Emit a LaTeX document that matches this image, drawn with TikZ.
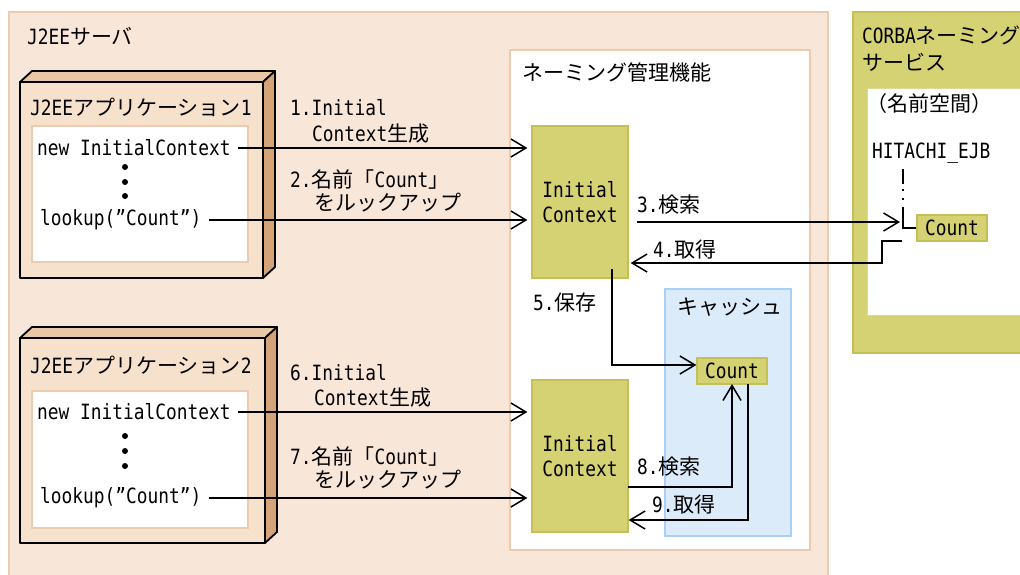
\documentclass[tikz,border=0pt]{standalone}
\usepackage{fontspec}
\setmainfont[FakeStretch=0.85]{DejaVu Sans Mono}
\newfontfamily\jp[Scale=1.0]{Noto Sans CJK JP}
\usetikzlibrary{arrows.meta}

\definecolor{svpeach}{HTML}{F8E6D8}
\definecolor{svline}{HTML}{EDCBB0}
\definecolor{appfront}{HTML}{F6E1CD}
\definecolor{apptop}{HTML}{E8C6A6}
\definecolor{appside}{HTML}{D4A478}
\definecolor{olive}{HTML}{D5D273}
\definecolor{oliveline}{HTML}{C4C055}
\definecolor{cachefill}{HTML}{DCEBFA}
\definecolor{cacheline}{HTML}{A9CFF3}

\tikzset{
  txt/.style={inner sep=0pt, anchor=west},
  ctx/.style={draw=oliveline, fill=olive, line width=1.3pt, inner sep=0pt,
    align=center, minimum width=96pt, minimum height=152pt,
    font=\fontsize{21pt}{25pt}\selectfont},
  cnt/.style={draw=oliveline, fill=olive, line width=1.3pt, inner sep=0pt,
    minimum width=70pt, minimum height=26pt},
  flow/.style={-{Straight Barb[length=15pt,width=18pt]}, line width=1.5pt},
  dot/.style={circle, fill=black, inner sep=0pt, minimum size=6pt},
}

\begin{document}
\begin{tikzpicture}[x=1pt, y=-1pt, font=\fontsize{21pt}{25pt}\selectfont]

  \useasboundingbox (0,0) rectangle (1020,574);

  % J2EE server and the naming parts
  \draw[svline, fill=svpeach, line width=1.5pt] (9,12) rectangle (828,590);
  \draw[svline, fill=white, line width=1.5pt] (510,50) rectangle (810,550);
  \draw[cacheline, fill=cachefill, line width=1.5pt] (665,289) rectangle (791,536);
  \draw[oliveline, fill=olive, line width=1.5pt] (853,12) rectangle (1040,353);
  \draw[oliveline!60, fill=white, line width=1pt] (867,88) rectangle (1040,315);

  % application boxes
  \begin{scope}[line width=1.8pt, line join=round]
    \draw[fill=apptop] (20,82) -- (32,71) -- (275,71) -- (263,82) -- cycle;
    \draw[fill=appside] (263,82) -- (275,71) -- (275,267) -- (263,278) -- cycle;
    \draw[fill=appfront] (20,82) rectangle (263,278);
    \draw[fill=apptop] (20,338) -- (32,327) -- (277,327) -- (265,338) -- cycle;
    \draw[fill=appside] (265,338) -- (277,327) -- (277,532) -- (265,543) -- cycle;
    \draw[fill=appfront] (20,338) rectangle (265,543);
  \end{scope}
  \draw[svline, fill=white, line width=1.5pt] (32,126) rectangle (248,262);
  \draw[svline, fill=white, line width=1.5pt] (32,391) rectangle (248,528);

  % texts
  \node[txt] (srvTitle) at (27,36) {J2EE{\jp サーバ}};
  \node[txt] (app1Title) at (30,107) {J2EE{\jp アプリケーション}1};
  \node[txt] (new1) at (37,148) {new InitialContext};
  \node[txt] (lookup1) at (40,220) {lookup(”Count”)};
  \node[txt] (app2Title) at (30,365) {J2EE{\jp アプリケーション}2};
  \node[txt] (new2) at (37,412) {new InitialContext};
  \node[txt] (lookup2) at (40,498) {lookup(”Count”)};

  \node[dot] (d1a) at (125,167) {};
  \node[dot] (d1b) at (125,182) {};
  \node[dot] (d1c) at (125,196) {};
  \node[dot] (d2a) at (125,436) {};
  \node[dot] (d2b) at (125,451) {};
  \node[dot] (d2c) at (125,466) {};

  \node[txt] (lbl1a) at (290,108) {1.Initial};
  \node[txt] (lbl1b) at (312,134) {Context{\jp 生成}};
  \node[txt] (lbl2a) at (290,180) {2.{\jp 名前「}Count{\jp 」}};
  \node[txt] (lbl2b) at (314,203) {\jp をルックアップ};
  \node[txt] (lbl6a) at (290,373) {6.Initial};
  \node[txt] (lbl6b) at (314,398) {Context{\jp 生成}};
  \node[txt] (lbl7a) at (290,457) {7.{\jp 名前「}Count{\jp 」}};
  \node[txt] (lbl7b) at (314,480) {\jp をルックアップ};

  \node[txt] (nameTitle) at (522,72) {\jp ネーミング管理機能};
  \node[txt] (cacheTitle) at (677,307) {\jp キャッシュ};
  \node[txt] (corbaTitle) at (862,35) {CORBA{\jp ネーミング}};
  \node[txt] (corbaTitle2) at (862,62) {\jp サービス};
  \node[txt] (space) at (866,104) {\jp （名前空間）};
  \node[txt] (hitachi) at (872,153) {HITACHI\_EJB};

  \node[txt] (lbl3) at (637,205) {3.{\jp 検索}};
  \node[txt] (lbl4) at (653,250) {4.{\jp 取得}};
  \node[txt] (lbl5) at (533,303) {5.{\jp 保存}};
  \node[txt] (lbl8) at (637,467) {8.{\jp 検索}};
  \node[txt] (lbl9) at (652,505) {9.{\jp 取得}};

  % naming objects
  \node[ctx] (ic1) at (580,202) {Initial\\Context};
  \node[ctx] (ic2) at (580,456) {Initial\\Context};
  \node[cnt] (cnt1) at (732,371) {Count};
  \node[cnt] (cnt2) at (952,228) {Count};

  \coordinate (treeTop) at (903,169);
  \coordinate (treeMid) at (903,207);
  \coordinate (s3) at (637,222);
  \coordinate (e3) at (900,222);
  \coordinate (s4) at (902,241);
  \coordinate (k4) at (882,263);
  \coordinate (s5) at (612,269);
  \coordinate (s8) at (628,487);
  \coordinate (k8) at (732,384);
  \coordinate (s9) at (748,384);
  \coordinate (k9) at (748,520);

  % tree in the name space
  \draw[line width=1.3pt, dash pattern=on 15pt off 5pt on 2pt off 7pt on 2pt off 20pt] (treeTop) -- (treeMid);
  \draw[line width=1.5pt] (treeMid) |- (cnt2.west);

  % flows
  \draw[flow, shorten <=7pt, shorten >=4pt] (new1.east) -- (new1.east -| ic1.west);
  \draw[flow, shorten <=7pt, shorten >=4pt] (lookup1.east) -- (lookup1.east -| ic1.west);
  \draw[flow, shorten <=7pt, shorten >=4pt] (new2.east) -- (new2.east -| ic2.west);
  \draw[flow, shorten <=7pt, shorten >=4pt] (lookup2.east) -- (lookup2.east -| ic2.west);
  \draw[flow] (s3) -- (e3);
  \draw[flow, shorten >=2pt] (s4) -| (k4) -- (k4 -| ic1.east);
  \draw[flow] (s5) |- ([yshift=6pt]cnt1.west);
  \draw[flow] (s8) -| (k8);
  \draw[flow] (s9) -- (k9) -- (k9 -| ic2.east);

\end{tikzpicture}
\end{document}
